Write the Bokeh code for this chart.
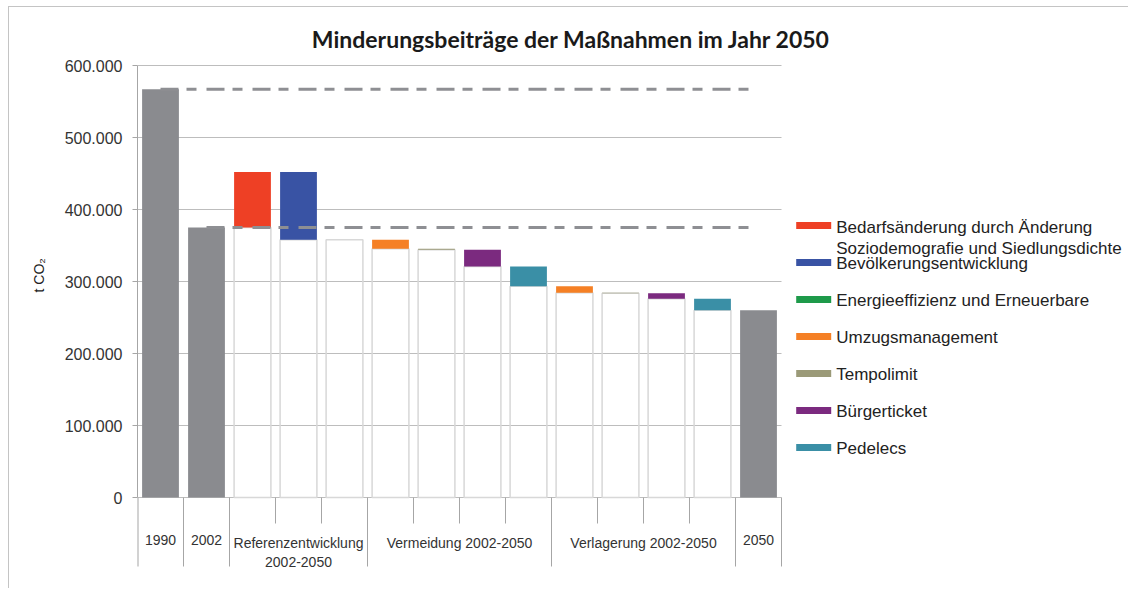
from bokeh.plotting import figure
from bokeh.models import Range1d, FixedTicker, ColumnDataSource, Title
from bokeh.embed import file_html
from bokeh.resources import INLINE
from bokeh.core.properties import value

# ---------------- data ----------------
total_labels = ["1990", "2002", "2050"]
total_values = [567000, 375000, 260000]

measures = [
    "Bedarfsänderung durch Änderung\nSoziodemografie und Siedlungsdichte",
    "Bevölkerungsentwicklung",
    "Energieeffizienz und Erneuerbare",
    "Umzugsmanagement",
    "Tempolimit",
    "Bürgerticket",
    "Pedelecs",
]
measure_colors = ["#ee4025", "#3953a4", "#1e9a4a", "#f58025", "#9b9a78", "#7b2a7f", "#3a8fa6"]

# changes in t CO2 (Referenzentwicklung: Bedarf, Bevölkerung, Energie)
ref_changes = [77000, -94000, 0]
# Vermeidung: Umzug, Tempo, Bürgerticket, Pedelecs
verm_changes = [-12500, -1500, -23000, -27500]
# Verlagerung: Umzug, Tempo, Bürgerticket, Pedelecs
verl_changes = [-9000, -800, -7500, -16200]

group_labels = ["1990", "2002", "Referenzentwicklung\n2002-2050",
                "Vermeidung 2002-2050", "Verlagerung 2002-2050", "2050"]
group_sizes = [1, 1, 3, 4, 4, 1]

ytick_values = [0, 100000, 200000, 300000, 400000, 500000, 600000]
ytick_labels = ["0", "100.000", "200.000", "300.000", "400.000", "500.000", "600.000"]

title_text = "Minderungsbeiträge der Maßnahmen im Jahr 2050"
y_axis_label = "t CO\u2082"

# ---------------- layout constants ----------------
SLOT_PX = 46.0
FRAME_W = 991
FRAME_TOP = 20         # page y of frame top
FRAME_BOT = 580        # page y of frame bottom
ZERO_PX = 497          # page y of value 0
PX_PER_UNIT = 72 / 100000.0
X0_PX = 137.3          # page x of slot boundary 0


def py(page_y):
    """page pixel y -> data y"""
    return (ZERO_PX - page_y) / PX_PER_UNIT


def px(page_x):
    return (page_x - X0_PX) / SLOT_PX


# ---------------- derived tables ----------------
n_slots = sum(group_sizes)
boundaries = [0]
for s in group_sizes:
    boundaries.append(boundaries[-1] + s)
inner = [i for i in range(n_slots + 1) if i not in boundaries]
group_centers = [(boundaries[i] + boundaries[i + 1]) / 2 for i in range(len(group_sizes))]

total_x = [0.5, 1.5, n_slots - 0.5]

changes = ref_changes + verm_changes + verl_changes
color_idx = [0, 1, 2, 3, 4, 5, 6, 3, 4, 5, 6]
step_x, step_lo, step_hi, step_col = [], [], [], []
level = total_values[1]
for k, c in enumerate(changes):
    new = level + c
    step_x.append(2 + k + 0.5)
    step_lo.append(min(level, new))
    step_hi.append(max(level, new))
    step_col.append(measure_colors[color_idx[k]])
    level = new

# ---------------- figure ----------------
p = figure(frame_width=FRAME_W, frame_height=FRAME_BOT - FRAME_TOP,
           x_range=Range1d(0, FRAME_W / SLOT_PX),
           y_range=Range1d(py(FRAME_BOT), py(FRAME_TOP)),
           output_backend="svg", toolbar_location=None,
           min_border_left=128, min_border_top=FRAME_TOP - 7,
           min_border_bottom=8, min_border_right=0)
p.margin = (6, 0, 0, 8)
p.styles = {"border-left": "1px solid #c4c4c4", "border-top": "1px solid #c4c4c4"}
p.outline_line_color = None
p.xgrid.visible = False
p.ygrid.visible = False
p.xaxis.visible = False

axis_gray = "#a6a6a6"
# y axis (bounded to 0..600.000)
p.yaxis.bounds = (ytick_values[0], ytick_values[-1])
p.yaxis.ticker = FixedTicker(ticks=ytick_values, minor_ticks=[])
p.yaxis.major_label_overrides = dict(zip(ytick_values, ytick_labels))
p.yaxis.axis_line_color = axis_gray
p.yaxis.major_tick_line_color = axis_gray
p.yaxis.major_tick_out = 5
p.yaxis.major_tick_in = 0
p.yaxis.major_label_standoff = 10
p.yaxis.major_label_text_font = "Liberation Sans"
p.yaxis.major_label_text_font_size = "16px"
p.yaxis.major_label_text_color = "#333333"

# y axis title (placed along the 0..600.000 part of the axis)
p.add_layout(Title(text=y_axis_label, align="left", offset=FRAME_BOT - 292,
                   text_font="Liberation Sans", text_font_size="14px",
                   text_font_style="normal", text_color="#222222", standoff=30), "left")

# horizontal grid lines over the category part only
p.segment(x0=[0] * len(ytick_values), y0=ytick_values,
          x1=[n_slots] * len(ytick_values), y1=ytick_values,
          line_color="#bdbdbd", line_width=1)

# category separators below the axis (long between groups, short inside)
sep_x = boundaries + inner
sep_end = [py(566)] * len(boundaries) + [py(523)] * len(inner)
sep_w = [2 if b == 0 else 1 for b in boundaries] + [1] * len(inner)
p.segment(x0=sep_x, y0=[0] * len(sep_x), x1=sep_x, y1=sep_end,
          line_color=axis_gray, line_width=sep_w)

# invisible-base bars (outlined only)
p.vbar(x=step_x, width=0.8, bottom=0, top=step_lo,
       fill_color=None, line_color="#d8d8d8", line_width=1.5)

# totals
p.vbar(x=total_x, width=0.8, bottom=0, top=total_values,
       fill_color="#8a8b8f", line_color=None)

# change bars
src = ColumnDataSource(dict(x=step_x, lo=step_lo, hi=step_hi, col=step_col))
p.vbar(x="x", width=0.8, bottom="lo", top="hi", fill_color="col", line_color=None, source=src)

# dashed reference lines
dash_col = "#8e8f93"
p.line(x=[total_x[0], total_x[2]], y=[total_values[0]] * 2,
       line_color=dash_col, line_width=3, line_dash="18 8 10 10")
p.line(x=[total_x[1], total_x[2]], y=[total_values[1]] * 2,
       line_color=dash_col, line_width=3, line_dash="18 8 10 10")

# category labels
p.text(x=group_centers, y=[py(534)] * len(group_centers), text=group_labels,
       text_align="center", text_baseline="top", text_font=value("Liberation Sans"),
       text_font_size="14px", text_color="#333333", text_line_height=1.2)

# title
p.text(x=[px(571)], y=[py(38)], text=[title_text], text_align="center",
       text_baseline="middle", text_font=value("Lato"), text_font_style="bold",
       text_font_size="23px", text_color="#1a1a1a")

# legend (drawn manually)
sw_y = [py(225 + 37 * i) for i in range(len(measures))]
tx_y = [py(237.5)] + [py(226 + 37 * i) for i in range(1, len(measures))]
p.rect(x=[px(813.5)] * len(measures), y=sw_y, width=35, height=7,
       width_units="screen", height_units="screen",
       fill_color=measure_colors, line_color=None)
p.text(x=[px(836)] * len(measures), y=tx_y, text=measures,
       text_font=value("Liberation Sans"), text_font_size="17px",
       text_baseline="middle", text_align="left", text_color="#222222",
       text_line_height=1.1)

open("out.html", "w").write(file_html(p, INLINE))
